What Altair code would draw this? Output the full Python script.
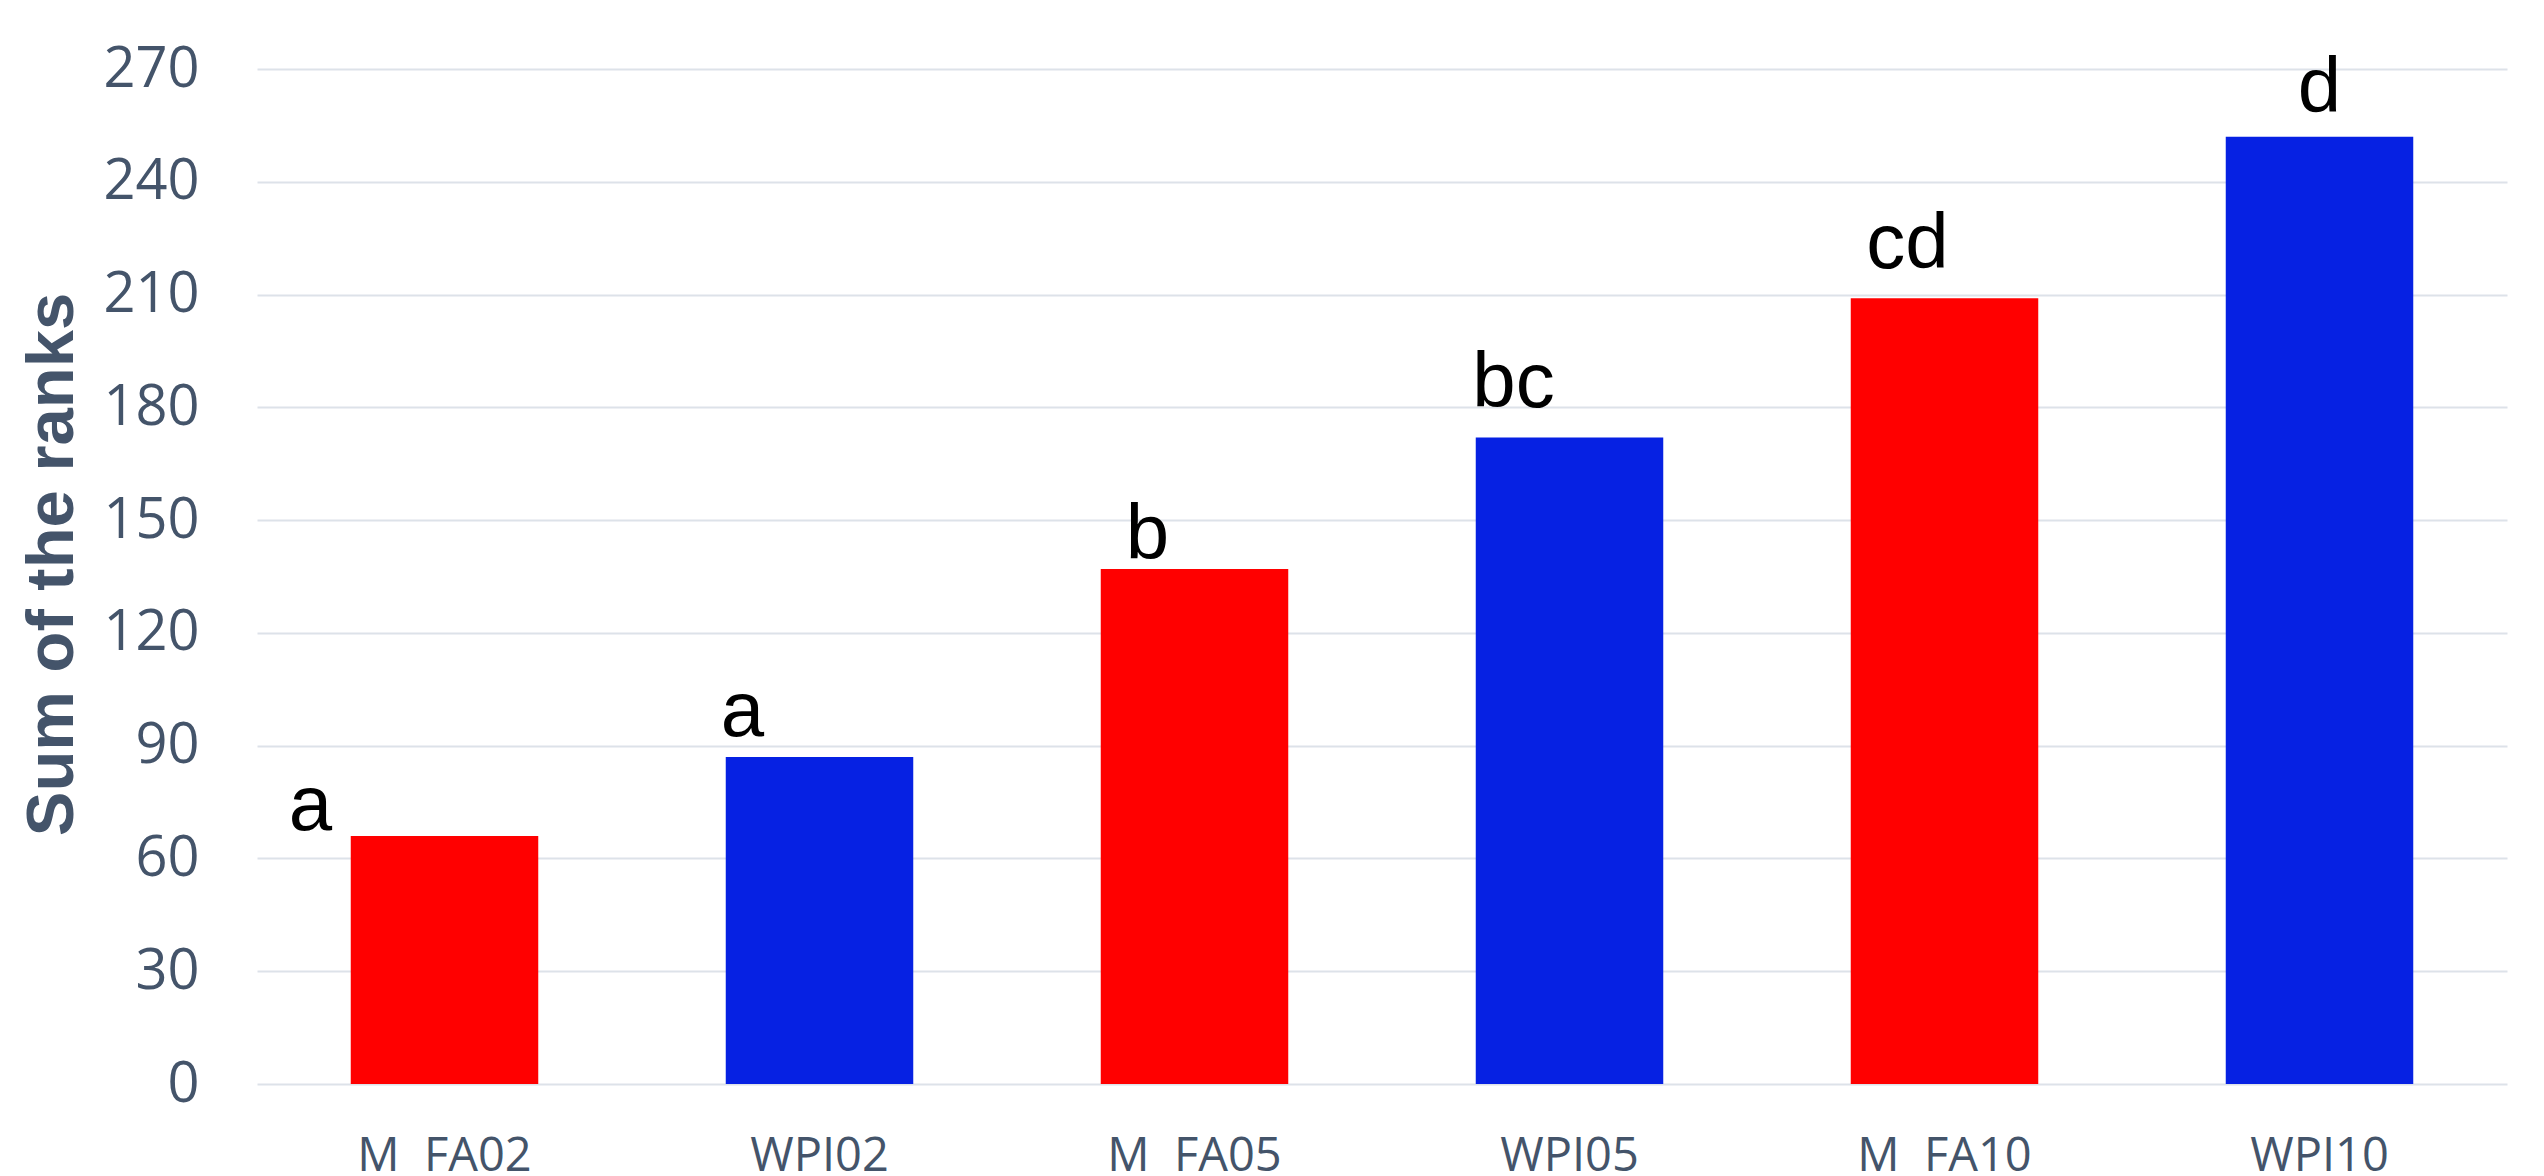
import altair as alt
import pandas as pd

# ---- data ----
categories = ["M\u00a0\u00a0FA02", "WPI02", "M\u00a0\u00a0FA05", "WPI05", "M\u00a0\u00a0FA10", "WPI10"]
series = ["MFA", "WPI", "MFA", "WPI", "MFA", "WPI"]
values = [66, 87, 137, 172, 209, 252]
letters = ["a", "a", "b", "bc", "cd", "d"]
y_ticks = [0, 30, 60, 90, 120, 150, 180, 210, 240, 270]

df = pd.DataFrame({"category": categories, "series": series,
                   "value": values, "letter": letters})

# label offsets (dx, dy) in pixels, one per letter label
label_offsets = [(-134, -6), (-77, -21), (-47, -10), (-56, -30), (-37, -30), (0, -25)]

SLATE = "#44546A"

x_enc = alt.X(
    "category:N", sort=categories,
    scale=alt.Scale(paddingInner=0.5, paddingOuter=0.25),
    axis=alt.Axis(title=None, labelAngle=0, labelFont="Open Sans", labelFontSize=47,
                  labelColor=SLATE, labelPadding=86, labelBaseline="alphabetic",
                  ticks=False, domain=False, grid=False),
)
y_enc = alt.Y(
    "value:Q",
    scale=alt.Scale(domain=[0, 270], nice=False, zero=True),
    axis=alt.Axis(values=y_ticks, title="Sum of the ranks",
                  titleFont="Liberation Sans", titleFontWeight="bold", titleFontSize=67,
                  titleColor=SLATE, titleAngle=270, titleBaseline="alphabetic",
                  titleAlign="center", titleX=-185, titleY=495,
                  labelFont="Open Sans", labelFontSize=56, labelColor=SLATE,
                  labelPadding=58, ticks=False, tickSize=0, domain=False,
                  grid=True, gridColor="#DDE2E9", gridWidth=2),
)

bars = alt.Chart(df).mark_bar().encode(
    x=x_enc, y=y_enc,
    color=alt.Color("series:N",
                    scale=alt.Scale(domain=["MFA", "WPI"], range=["#FF0000", "#0621E3"]),
                    legend=None),
)

layers = [bars]
for cat, (dx, dy) in zip(categories, label_offsets):
    layers.append(
        alt.Chart(df).transform_filter(alt.datum.category == cat).mark_text(
            font="Liberation Sans", fontSize=78, color="black",
            align="center", baseline="alphabetic", dx=dx, dy=dy,
        ).encode(x=x_enc, y=y_enc, text="letter:N")
    )

chart = alt.layer(*layers).properties(
    width=2250, height=1015,
    padding={"left": 249, "top": 61, "right": 29, "bottom": 90},
    autosize=alt.AutoSizeParams(type="none"),
    background="white",
).configure_view(stroke=None)

chart.save("out.html", embed_options={"renderer": "svg", "actions": False})
